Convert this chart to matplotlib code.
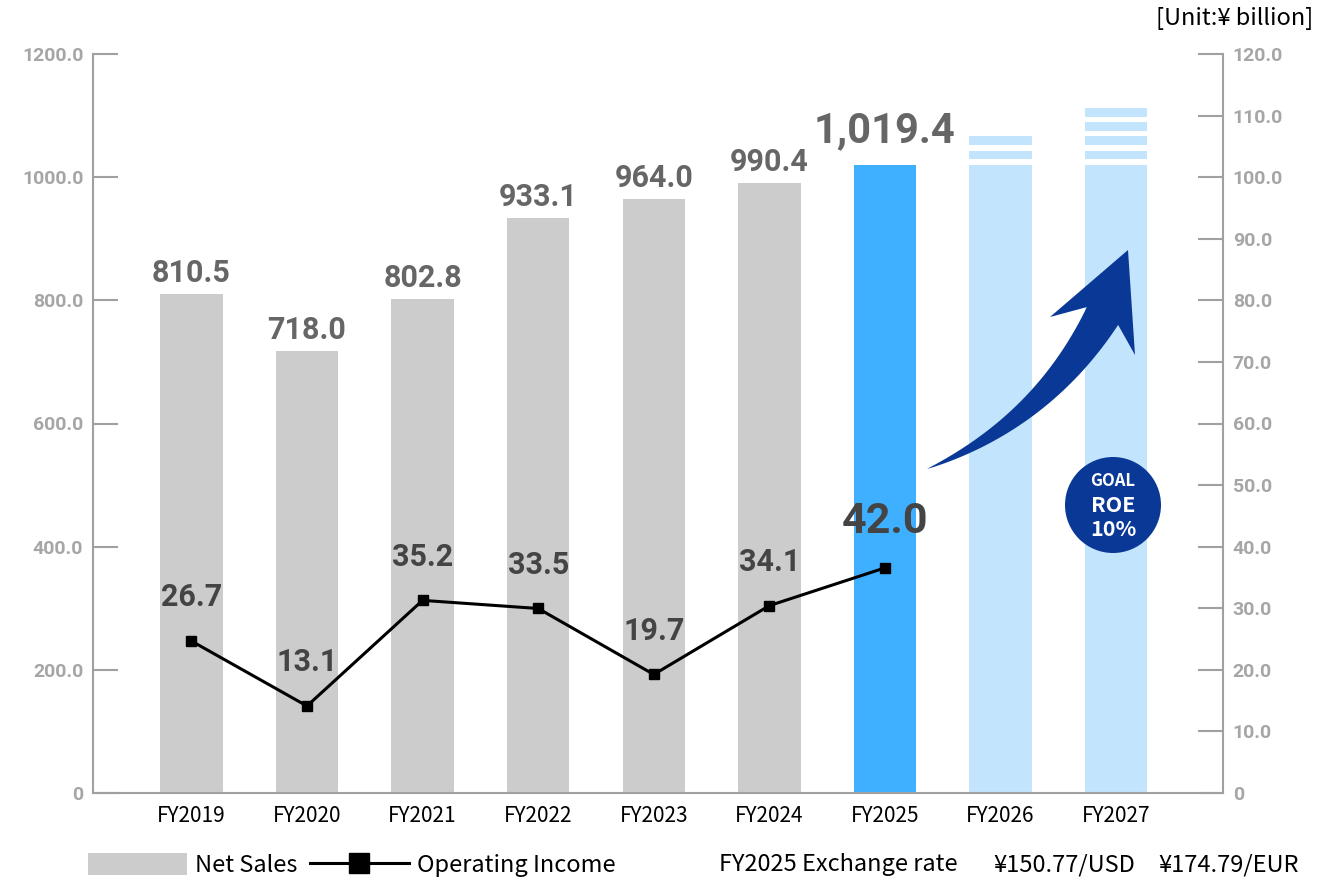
import numpy as np
import matplotlib
matplotlib.use("Agg")
import matplotlib.pyplot as plt
from matplotlib.patches import Patch, Circle, Polygon
from matplotlib.lines import Line2D

plt.rcParams['font.family'] = ['Noto Sans CJK JP', 'DejaVu Sans']

# data
years = ["FY2019", "FY2020", "FY2021", "FY2022", "FY2023", "FY2024", "FY2025", "FY2026", "FY2027"]
net_sales = [810.5, 718.0, 802.8, 933.1, 964.0, 990.4, 1019.4]
op_income = [26.7, 13.1, 35.2, 33.5, 19.7, 34.1, 42.0]
plan_base = [1019.4, 1019.4]   # FY2026, FY2027 (plan bars)
plan_steps = [2, 4]            # stacked stripes above the plan bars
sales_ticks = [0, 200, 400, 600, 800, 1000, 1200]
income_ticks = [0, 10, 20, 30, 40, 50, 60, 70, 80, 90, 100, 110, 120]

W, H = 1320, 892
fig = plt.figure(figsize=(W / 100, H / 100), dpi=100)


def fx(px):
    return px / W


def fy(py):
    return 1 - py / H


def inch(px, py):
    return px / 100, (H - py) / 100


AXC = '#a0a0a0'
LBL = '#a6a6a6'

ax = fig.add_axes([fx(93), fy(793), (1223 - 93) / W, (793 - 54) / H])
x = np.arange(len(years))
ax.set_xlim(-0.851, 8.924)
ax.set_ylim(0, 1200)

bw = 0.54
colors = ['#cccccc'] * 6 + ['#3eb0ff']
ax.bar(x[:7], net_sales, width=bw, color=colors, zorder=2)
plan_c = '#c2e4fc'
ax.bar(x[7:], plan_base, width=bw, color=plan_c, zorder=2)
for i, (b, n) in enumerate(zip(plan_base, plan_steps)):
    bottoms = [b + 9.5 + k * 23.2 for k in range(n)]
    ax.bar([x[7 + i]] * n, [14] * n, bottom=bottoms, width=bw, color=plan_c, zorder=2)

for i, v in enumerate(net_sales):
    big = i == 6
    ax.annotate(f"{v:,.1f}", (x[i], v), xytext=(0, 16.5 if big else 8.6),
                textcoords='offset points', ha='center', va='baseline',
                fontsize=30 if big else 22, fontweight='bold', color='#666666',
                family='Roboto', zorder=4)

ax.set_yticks(sales_ticks)
ax.set_yticklabels(["0" if t == 0 else f"{t:.1f}" for t in sales_ticks])
ax.set_xticks(x)
ax.set_xticklabels(years)
ax.tick_params(axis='y', direction='in', length=18, width=1.5, color=AXC, pad=7,
               labelsize=14, labelcolor=LBL)
ax.tick_params(axis='x', length=0, pad=9, labelsize=15, labelcolor='black')
for t in ax.get_yticklabels():
    t.set_fontfamily('Roboto')
    t.set_fontweight('bold')
ax.spines['top'].set_visible(False)
ax.spines['right'].set_visible(False)
for s in ['left', 'bottom']:
    ax.spines[s].set_color(AXC)
    ax.spines[s].set_linewidth(1.5)

# right axis
ax2 = ax.twinx()
ax2.set_ylim(0, 120)
ax2.set_yticks(income_ticks)
ax2.set_yticklabels(["0" if t == 0 else f"{t:.1f}" for t in income_ticks])
ax2.tick_params(axis='y', direction='in', length=18, width=1.5, color=AXC, pad=7,
                labelsize=14, labelcolor=LBL)
for t in ax2.get_yticklabels():
    t.set_fontfamily('Roboto')
    t.set_fontweight('bold')
for s in ['left', 'top', 'bottom']:
    ax2.spines[s].set_visible(False)
ax2.spines['right'].set_color(AXC)
ax2.spines['right'].set_linewidth(1.5)

# operating income line (own scale, as in the original)
ax3 = ax.twinx()
ax3.set_ylim(-5.1, 149.5)
ax3.axis('off')
ax3.plot(x[:7], op_income, color='black', lw=2.2, marker='s', ms=7, zorder=3)
for i, v in enumerate(op_income):
    big = i == 6
    ax3.annotate(f"{v:.1f}", (x[i], v), xytext=(0, 25), textcoords='offset points',
                 ha='center', va='baseline', fontsize=31 if big else 22,
                 fontweight='bold', color='#444444', family='Roboto')

# growth arrow
p0 = np.array([927.0, 469.0])
pc = np.array([1042.0, 422.0])
p1 = np.array([1102.5, 316.0])
u = np.linspace(0, 1, 80)[:, None]
pts = (1 - u) ** 2 * p0 + 2 * (1 - u) * u * pc + u ** 2 * p1
d = 2 * (1 - u) * (pc - p0) + 2 * u * (p1 - pc)
nrm = np.column_stack([-d[:, 1], d[:, 0]]) / np.linalg.norm(d, axis=1)[:, None]
w = 18 * u[:, 0] ** 0.9
upper = pts - nrm * w[:, None]
lower = pts + nrm * w[:, None]
poly = list(upper) + [(1050, 317), (1128, 250), (1135, 355)] + list(lower[::-1])
poly = [inch(a, b) for a, b in poly]
navy = '#0a3896'
fig.add_artist(Polygon(poly, closed=True, transform=fig.dpi_scale_trans,
                       facecolor=navy, edgecolor='none', zorder=5))

fig.add_artist(Circle(inch(1113, 505), 0.48, transform=fig.dpi_scale_trans,
                      facecolor=navy, edgecolor='none', zorder=5))
fig.text(fx(1113), fy(481), "GOAL", ha='center', va='center', color='white',
         fontsize=12, fontweight='bold', zorder=6)
fig.text(fx(1113), fy(505), "ROE", ha='center', va='center', color='white',
         fontsize=15.5, fontweight='bold', zorder=6)
fig.text(fx(1113), fy(530), "10%", ha='center', va='center', color='white',
         fontsize=15.5, fontweight='bold', zorder=6)

# unit
fig.text(fx(1313), fy(18), "[Unit:¥ billion]", ha='right', va='center', fontsize=17, color='black')

# legend
handles = [Patch(facecolor='#cccccc', edgecolor='none'),
           Line2D([], [], color='black', lw=2.2, marker='s', ms=15)]
fig.legend(handles, ['Net Sales', 'Operating Income'], loc='center left',
           bbox_to_anchor=(fx(88), fy(865)), ncol=2, frameon=False, fontsize=17,
           handlelength=4.2, handleheight=1.1, handletextpad=0.35, columnspacing=0.5,
           borderpad=0, borderaxespad=0)

fig.text(fx(719), fy(865), "FY2025 Exchange rate", ha='left', va='center', fontsize=17)
fig.text(fx(993), fy(865), "¥150.77/USD", ha='left', va='center', fontsize=17)
fig.text(fx(1158), fy(865), "¥174.79/EUR", ha='left', va='center', fontsize=17)

fig.savefig("out.png", dpi=100)
